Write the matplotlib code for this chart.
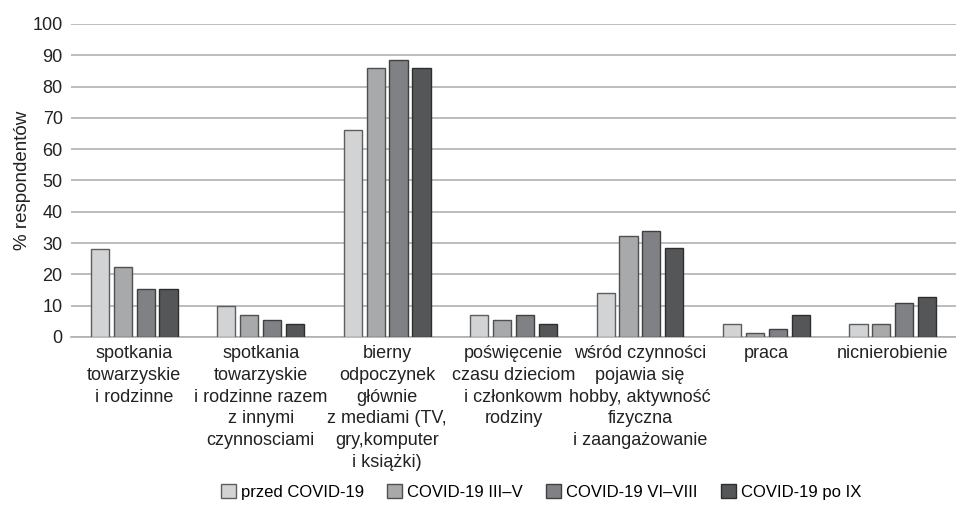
import matplotlib
matplotlib.use("Agg")
import matplotlib.pyplot as plt
import numpy as np

plt.rcParams['font.family'] = ['Liberation Sans', 'DejaVu Sans']

categories = [
    "spotkania\ntowarzyskie\ni rodzinne",
    "spotkania\ntowarzyskie\ni rodzinne razem\nz innymi\nczynnosciami",
    "bierny\nodpoczynek\ngłównie\nz mediami (TV,\ngry,komputer\ni książki)",
    "poświęcenie\nczasu dzieciom\ni członkowm\nrodziny",
    "wśród czynności\npojawia się\nhobby, aktywność\nfizyczna\ni zaangażowanie",
    "praca",
    "nicnierobienie",
]
series_names = ["przed COVID-19", "COVID-19 III–V", "COVID-19 VI–VIII", "COVID-19 po IX"]
przed = [28.2, 9.8, 66.2, 7.0, 14.1, 4.1, 4.1]
covid_3_5 = [22.5, 6.9, 85.9, 5.4, 32.4, 1.3, 4.1]
covid_6_8 = [15.3, 5.4, 88.6, 7.0, 33.9, 2.7, 11.0]
covid_9 = [15.3, 4.1, 85.9, 4.1, 28.3, 7.0, 12.7]
yticks = list(range(0, 101, 10))

colors = ["#d2d3d5", "#a8a9ab", "#808184", "#555658"]
edges = ["#5e5e5e", "#505050", "#404040", "#2e2e2e"]

fig = plt.figure(figsize=(9.56, 5.16), dpi=100)
ax = fig.add_axes([0.0743, 0.3469, 0.9257, 0.9535 - 0.3469])

x = np.arange(len(categories))
step = 0.181
width = 0.144
all_series = [przed, covid_3_5, covid_6_8, covid_9]
for i, (vals, name) in enumerate(zip(all_series, series_names)):
    ax.bar(x + (i - 1.5) * step, vals, width, color=colors[i], edgecolor=edges[i],
           linewidth=1.0, label=name, zorder=3)

ax.set_xlim(-0.5, len(categories) - 0.5)
ax.set_ylim(0, 100)
ax.set_yticks(yticks)
ax.tick_params(axis='y', length=0, pad=6, labelsize=13, colors='#222222')
ax.tick_params(axis='x', length=0, pad=6)
ax.set_xticks(x)
ax.set_xticklabels(categories, fontsize=13, linespacing=1.36, color='#222222')
ax.yaxis.grid(True, color='#b0b0b0', linewidth=1.2, zorder=0)
for s in ['top', 'right', 'left']:
    ax.spines[s].set_visible(False)
ax.spines['bottom'].set_color('#b0b0b0')
ax.spines['bottom'].set_linewidth(1.2)
ax.set_ylabel("% respondentów", fontsize=13.5, color='#222222', labelpad=1)

fig.legend(loc='center', bbox_to_anchor=(0.566, 0.047), ncol=4, frameon=False,
           fontsize=12, handlelength=0.9, handleheight=0.9,
           handletextpad=0.3, columnspacing=1.4)

fig.savefig("out.png", dpi=100)
